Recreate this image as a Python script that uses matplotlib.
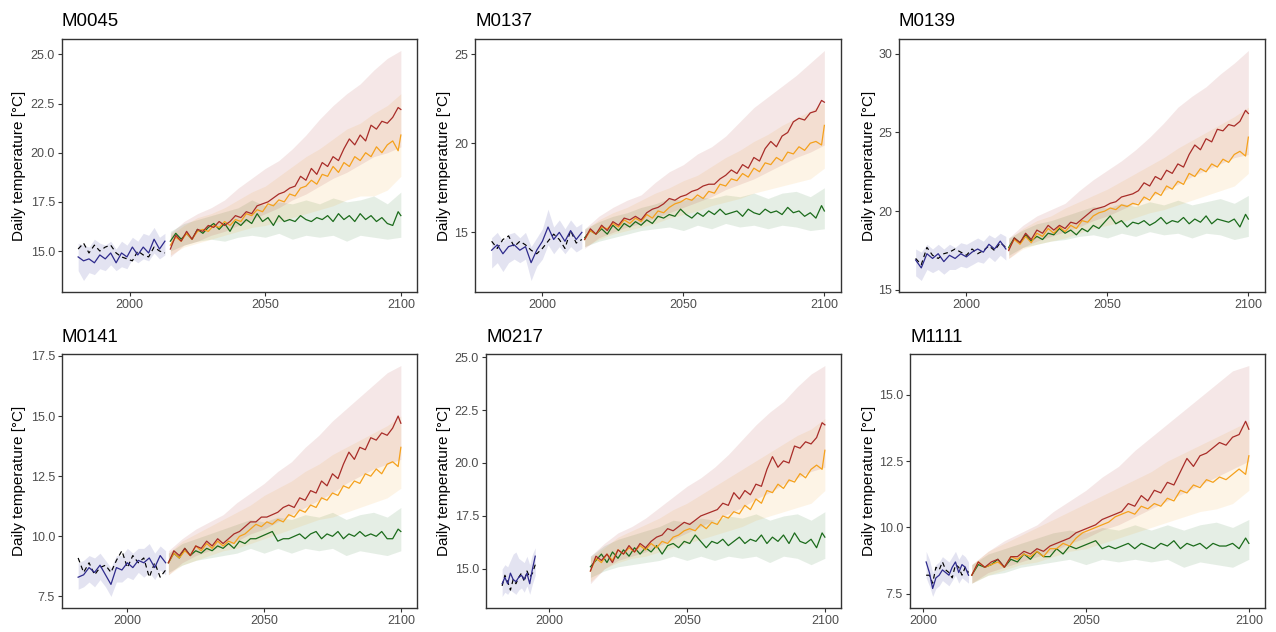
import numpy as np
import matplotlib
matplotlib.use('Agg')
from matplotlib import pyplot as plt
from matplotlib.ticker import MultipleLocator, FormatStrFormatter

plt.rcParams['font.family'] = ['Liberation Sans', 'DejaVu Sans']

ssp_years = np.append(np.arange(2015, 2100, 2), 2100)
band_years = np.arange(2015, 2101, 5)

# ---------------- M0045 ----------------
m0045_hist_years = np.arange(1981, 2014, 2)
m0045_hist = [14.7, 14.5, 14.6, 14.4, 14.8, 14.6, 14.9, 14.4, 14.9, 14.7, 15.2, 14.8, 15.2, 14.9, 15.6, 15.1, 15.5]
m0045_hist_lo = [14.0, 13.5, 13.9, 13.8, 14.1, 14.0, 14.3, 14.0, 14.2, 14.1, 14.6, 14.4, 14.6, 14.5, 14.9, 14.6, 14.8]
m0045_hist_hi = [15.4, 15.3, 15.2, 15.6, 15.4, 15.3, 15.5, 15.1, 15.5, 15.3, 15.7, 15.5, 15.9, 15.8, 16.2, 15.7, 15.9]
m0045_obs = [15.1, 15.4, 14.9, 15.3, 15.0, 15.2, 15.3, 14.9, 14.7, 14.6, 14.5, 15.0, 14.8, 14.7, 15.2, 15.0, 14.9]
m0045_ssp126 = [15.5, 15.9, 15.6, 15.9, 15.6, 16.1, 15.9, 16.2, 16.4, 16.1, 16.4,
                16.0, 16.5, 16.3, 16.6, 16.4, 16.9, 16.5, 16.7, 16.3, 16.8, 16.5,
                16.6, 16.5, 16.8, 16.6, 16.5, 16.7, 16.6, 16.8, 16.5, 16.9, 16.6,
                16.8, 16.5, 16.9, 16.6, 16.8, 16.5, 16.7, 16.4, 16.3, 17.0, 16.8]
m0045_ssp245 = [15.3, 15.7, 15.5, 15.9, 15.6, 16.0, 16.1, 16.0, 16.3, 16.2, 16.5,
                16.3, 16.6, 16.5, 16.9, 16.8, 17.1, 17.0, 17.4, 17.3, 17.6, 17.5,
                17.9, 17.8, 18.2, 18.3, 18.6, 18.4, 18.9, 18.8, 19.3, 19.0, 19.5,
                19.3, 19.8, 19.6, 20.0, 19.8, 20.3, 20.0, 20.4, 20.6, 20.1, 20.9]
m0045_ssp585 = [15.1, 15.8, 15.5, 16.0, 15.6, 16.1, 16.0, 16.3, 16.2, 16.5, 16.3,
                16.5, 16.8, 16.7, 17.0, 16.9, 17.3, 17.4, 17.5, 17.7, 17.9, 18.0,
                18.2, 18.3, 18.8, 18.6, 19.2, 18.9, 19.5, 19.3, 19.8, 19.6, 20.2,
                20.7, 20.4, 20.9, 20.6, 21.4, 21.2, 21.6, 21.5, 21.8, 22.3, 22.2]
m0045_ssp126_lo = [15.0, 15.3, 15.5, 15.6, 15.5, 15.7, 15.8, 15.7, 15.9, 15.6, 15.8, 15.7, 15.8, 15.5, 15.8, 15.7, 15.6, 15.7]
m0045_ssp126_hi = [16.0, 16.4, 16.6, 16.8, 17.0, 17.2, 17.6, 17.3, 17.5, 17.4, 17.6, 17.4, 17.7, 17.5, 17.6, 17.8, 17.4, 18.0]
m0045_ssp245_lo = [14.8, 15.2, 15.4, 15.6, 15.8, 16.0, 16.2, 16.3, 16.5, 16.7, 16.9, 17.1, 17.3, 17.6, 17.8, 17.8, 18.1, 18.8]
m0045_ssp245_hi = [15.8, 16.3, 16.7, 16.9, 17.2, 17.6, 18.0, 18.3, 18.8, 19.3, 19.8, 20.2, 20.7, 21.2, 21.5, 22.0, 22.4, 23.0]
m0045_ssp585_lo = [14.7, 15.3, 15.5, 15.8, 16.0, 16.3, 16.6, 16.9, 17.2, 17.6, 17.9, 18.3, 18.7, 19.0, 19.4, 19.8, 20.0, 20.3]
m0045_ssp585_hi = [15.9, 16.5, 16.9, 17.2, 17.6, 18.2, 18.7, 19.2, 19.6, 20.2, 20.9, 21.7, 22.4, 23.0, 23.5, 24.2, 24.8, 25.2]

# ---------------- M0137 ----------------
m0137_hist_years = np.arange(1982, 2015, 2)
m0137_hist = [14.0, 14.3, 13.8, 14.2, 14.3, 14.0, 14.2, 13.3, 14.0, 14.5, 15.3, 14.6, 15.0, 14.5, 15.1, 14.6, 15.0]
m0137_hist_lo = [13.0, 13.3, 12.8, 13.3, 13.5, 13.3, 13.5, 12.3, 13.1, 13.5, 14.3, 13.8, 14.2, 13.8, 14.2, 13.9, 14.1]
m0137_hist_hi = [14.7, 15.0, 14.5, 14.9, 15.0, 14.7, 15.0, 14.2, 14.7, 15.2, 16.3, 15.3, 15.7, 15.2, 15.7, 15.3, 15.5]
m0137_obs = [14.5, 14.1, 14.6, 14.8, 14.2, 14.5, 14.3, 14.0, 13.8, 14.1, 14.5, 14.9, 14.6, 14.1, 15.1, 14.4, 14.6]
m0137_ssp126 = [14.7, 15.1, 14.9, 15.2, 14.9, 15.4, 15.1, 15.5, 15.3, 15.6, 15.4,
                15.7, 15.5, 15.9, 15.8, 16.0, 15.9, 16.3, 16.0, 15.8, 16.1, 15.9,
                16.2, 16.0, 16.3, 16.0, 16.1, 16.2, 15.9, 16.3, 16.1, 16.0, 16.3,
                16.1, 16.2, 16.0, 16.4, 16.1, 16.2, 15.9, 16.1, 15.8, 16.5, 16.2]
m0137_ssp245 = [14.6, 15.1, 14.9, 15.3, 15.2, 15.5, 15.3, 15.7, 15.5, 15.8, 15.6,
                16.0, 15.8, 16.2, 16.1, 16.4, 16.6, 16.7, 16.9, 16.8, 17.1, 16.9,
                17.3, 17.2, 17.7, 17.6, 18.0, 17.9, 18.3, 18.1, 18.6, 18.4, 18.9,
                18.8, 19.2, 19.0, 19.5, 19.4, 19.8, 19.6, 20.0, 20.1, 19.9, 21.0]
m0137_ssp585 = [14.6, 15.2, 14.9, 15.4, 15.1, 15.6, 15.4, 15.8, 15.7, 15.9, 15.7,
                16.1, 16.3, 16.4, 16.6, 16.9, 16.8, 17.0, 17.1, 17.3, 17.4, 17.6,
                17.7, 17.7, 18.0, 18.2, 18.5, 18.3, 18.8, 18.6, 19.2, 19.0, 19.7,
                20.1, 19.8, 20.4, 20.6, 21.2, 21.4, 21.3, 21.7, 21.8, 22.4, 22.3]
m0137_ssp126_lo = [14.2, 14.5, 14.7, 14.9, 15.1, 15.2, 15.3, 15.1, 15.4, 15.2, 15.5, 15.3, 15.4, 15.2, 15.4, 15.3, 15.1, 15.2]
m0137_ssp126_hi = [15.2, 15.6, 15.9, 16.1, 16.4, 16.6, 16.9, 16.8, 17.0, 16.9, 17.1, 17.0, 17.2, 16.9, 17.2, 17.3, 17.0, 17.5]
m0137_ssp245_lo = [14.2, 14.6, 14.9, 15.1, 15.3, 15.5, 15.8, 16.0, 16.2, 16.5, 16.7, 16.9, 17.2, 17.4, 17.6, 17.8, 18.0, 18.6]
m0137_ssp245_hi = [15.1, 15.7, 16.1, 16.4, 16.8, 17.2, 17.5, 17.9, 18.2, 18.7, 19.2, 19.6, 20.1, 20.5, 21.0, 21.4, 21.8, 22.3]
m0137_ssp585_lo = [14.1, 14.7, 15.0, 15.3, 15.5, 15.8, 16.1, 16.4, 16.7, 17.0, 17.4, 17.7, 18.0, 18.4, 18.8, 19.2, 19.5, 19.9]
m0137_ssp585_hi = [15.2, 15.9, 16.4, 16.8, 17.1, 17.8, 18.4, 18.8, 19.4, 19.8, 20.4, 21.2, 22.0, 22.6, 23.2, 23.8, 24.5, 25.2]

# ---------------- M0139 ----------------
m0139_hist_years = np.arange(1982, 2015, 2)
m0139_hist = [16.9, 16.4, 17.3, 17.0, 17.3, 16.8, 17.2, 17.0, 17.3, 17.1, 17.4, 17.6, 17.4, 17.9, 17.6, 18.1, 17.6]
m0139_hist_lo = [15.9, 15.6, 16.3, 16.1, 16.3, 16.0, 16.3, 16.3, 16.5, 16.4, 16.6, 16.8, 16.7, 17.1, 16.8, 17.2, 16.9]
m0139_hist_hi = [17.6, 17.4, 17.9, 17.6, 17.9, 17.6, 17.9, 17.7, 18.0, 17.9, 18.1, 18.3, 18.1, 18.5, 18.3, 18.6, 18.4]
m0139_obs = [17.0, 16.6, 17.7, 17.2, 17.0, 17.3, 17.4, 17.6, 17.4, 17.2, 17.6, 17.3, 17.5, 17.8, 17.5, 18.0, 17.7]
m0139_ssp126 = [17.7, 18.3, 18.0, 18.5, 18.1, 18.4, 18.2, 18.6, 18.5, 18.9, 18.6,
                18.8, 18.5, 18.9, 18.7, 19.1, 18.9, 19.3, 19.7, 19.2, 19.4, 19.0,
                19.3, 19.2, 19.4, 19.1, 19.3, 19.6, 19.2, 19.4, 19.3, 19.6, 19.2,
                19.5, 19.3, 19.7, 19.2, 19.5, 19.4, 19.3, 19.5, 19.0, 19.8, 19.5]
m0139_ssp245 = [17.6, 18.2, 17.9, 18.4, 18.0, 18.6, 18.4, 18.9, 18.6, 19.0, 18.7,
                19.1, 18.9, 19.4, 19.3, 19.7, 19.9, 20.0, 20.2, 20.1, 20.4, 20.3,
                20.5, 20.4, 20.9, 20.7, 21.2, 21.0, 21.6, 21.4, 21.9, 21.7, 22.4,
                22.2, 22.7, 22.5, 23.0, 22.8, 23.3, 23.1, 23.6, 23.8, 23.5, 24.7]
m0139_ssp585 = [17.5, 18.3, 18.0, 18.6, 18.2, 18.8, 18.6, 19.1, 18.8, 19.1, 18.9,
                19.3, 19.2, 19.5, 19.8, 20.1, 20.2, 20.3, 20.5, 20.6, 20.9, 21.0,
                21.1, 21.3, 21.8, 21.6, 22.2, 22.0, 22.6, 22.4, 23.0, 22.8, 23.6,
                24.2, 23.9, 24.6, 24.4, 25.2, 25.1, 25.5, 25.4, 25.7, 26.4, 26.2]
m0139_ssp126_lo = [17.2, 17.7, 17.9, 18.1, 18.2, 18.4, 18.5, 18.3, 18.6, 18.4, 18.7, 18.5, 18.6, 18.3, 18.6, 18.5, 18.2, 18.4]
m0139_ssp126_hi = [18.3, 18.8, 19.2, 19.4, 19.7, 20.0, 20.3, 20.2, 20.5, 20.3, 20.6, 20.4, 20.7, 20.4, 20.6, 20.8, 20.5, 21.0]
m0139_ssp245_lo = [17.0, 17.6, 17.9, 18.1, 18.3, 18.6, 18.9, 19.1, 19.3, 19.6, 19.9, 20.1, 20.4, 20.7, 21.0, 21.3, 21.6, 22.4]
m0139_ssp245_hi = [18.2, 18.9, 19.4, 19.7, 20.2, 20.6, 21.0, 21.4, 21.9, 22.4, 22.9, 23.4, 24.0, 24.5, 25.0, 25.5, 26.0, 26.6]
m0139_ssp585_lo = [17.0, 17.7, 18.1, 18.4, 18.7, 19.0, 19.4, 19.7, 20.1, 20.5, 20.9, 21.3, 21.7, 22.2, 22.6, 23.0, 23.4, 23.6]
m0139_ssp585_hi = [18.3, 19.1, 19.7, 20.1, 20.5, 21.3, 22.0, 22.6, 23.2, 23.9, 24.7, 25.6, 26.6, 27.3, 27.9, 28.7, 29.4, 30.2]

# ---------------- M0141 ----------------
m0141_hist_years = np.arange(1982, 2015, 2)
m0141_hist = [8.3, 8.4, 8.7, 8.5, 8.8, 8.4, 8.0, 8.7, 8.6, 8.9, 8.7, 9.0, 8.9, 9.1, 8.7, 9.2, 8.9]
m0141_hist_lo = [7.8, 7.9, 8.1, 7.9, 8.2, 7.9, 7.5, 8.1, 8.1, 8.3, 8.2, 8.5, 8.3, 8.5, 8.2, 8.6, 8.4]
m0141_hist_hi = [8.9, 9.0, 9.2, 9.1, 9.3, 9.0, 8.7, 9.2, 9.2, 9.5, 9.3, 9.5, 9.5, 9.7, 9.3, 9.6, 9.4]
m0141_obs = [9.1, 8.5, 8.9, 8.4, 8.7, 8.8, 8.5, 9.0, 9.4, 8.7, 9.2, 8.9, 9.1, 8.3, 8.9, 8.3, 8.6]
m0141_ssp126 = [8.9, 9.3, 9.1, 9.5, 9.2, 9.4, 9.3, 9.5, 9.4, 9.6, 9.5,
                9.7, 9.5, 9.8, 9.7, 9.9, 9.9, 10.0, 10.1, 10.2, 9.8, 9.9,
                9.9, 10.0, 10.1, 9.9, 10.1, 10.2, 9.9, 10.1, 10.0, 10.2, 9.9,
                10.1, 10.0, 10.2, 10.0, 10.1, 10.0, 10.2, 9.9, 9.9, 10.3, 10.2]
m0141_ssp245 = [8.9, 9.3, 9.1, 9.4, 9.2, 9.6, 9.4, 9.7, 9.5, 9.8, 9.6,
                9.8, 9.7, 10.0, 10.1, 10.3, 10.5, 10.4, 10.6, 10.5, 10.7, 10.6,
                10.9, 10.8, 11.1, 11.0, 11.3, 11.2, 11.6, 11.5, 11.8, 11.7, 12.1,
                12.0, 12.3, 12.2, 12.6, 12.5, 12.8, 12.6, 13.0, 13.1, 12.9, 13.7]
m0141_ssp585 = [8.9, 9.4, 9.2, 9.5, 9.2, 9.6, 9.5, 9.8, 9.6, 9.9, 9.7,
                9.9, 10.1, 10.2, 10.4, 10.6, 10.6, 10.8, 10.8, 10.9, 11.0, 11.2,
                11.3, 11.2, 11.6, 11.5, 11.9, 11.8, 12.3, 12.1, 12.6, 12.4, 13.0,
                13.5, 13.2, 13.7, 13.6, 14.1, 14.0, 14.3, 14.2, 14.5, 15.0, 14.7]
m0141_ssp126_lo = [8.5, 8.8, 9.0, 9.1, 9.2, 9.3, 9.5, 9.3, 9.5, 9.3, 9.5, 9.4, 9.5, 9.2, 9.4, 9.3, 9.2, 9.4]
m0141_ssp126_hi = [9.3, 9.7, 9.9, 10.1, 10.3, 10.5, 10.7, 10.6, 10.8, 10.7, 10.9, 10.8, 11.0, 10.7, 10.9, 11.0, 10.8, 11.2]
m0141_ssp245_lo = [8.4, 8.8, 9.0, 9.2, 9.4, 9.5, 9.7, 9.9, 10.1, 10.3, 10.5, 10.7, 10.8, 11.0, 11.2, 11.4, 11.6, 12.0]
m0141_ssp245_hi = [9.3, 9.8, 10.1, 10.4, 10.7, 11.0, 11.3, 11.7, 12.0, 12.3, 12.7, 13.0, 13.4, 13.7, 14.0, 14.3, 14.6, 15.0]
m0141_ssp585_lo = [8.4, 8.9, 9.2, 9.4, 9.6, 9.8, 10.1, 10.3, 10.6, 10.9, 11.2, 11.5, 11.8, 12.2, 12.5, 12.8, 13.0, 13.2]
m0141_ssp585_hi = [9.4, 9.9, 10.3, 10.6, 10.9, 11.4, 11.8, 12.2, 12.7, 13.1, 13.7, 14.2, 14.8, 15.3, 15.8, 16.3, 16.8, 17.1]

# ---------------- M0217 ----------------
m0217_hist_years = np.arange(1983, 1996)
m0217_hist = [14.3, 14.6, 14.3, 14.8, 14.5, 14.4, 14.6, 14.7, 14.5, 14.8, 14.3, 15.0, 15.6]
m0217_hist_lo = [13.7, 13.9, 13.8, 14.0, 13.9, 13.8, 14.0, 14.1, 13.9, 14.2, 13.8, 14.3, 14.7]
m0217_hist_hi = [15.0, 15.2, 15.1, 15.4, 15.7, 15.8, 15.5, 15.4, 15.3, 15.6, 15.2, 15.7, 16.0]
m0217_obs = [14.2, 14.7, 14.4, 14.0, 14.5, 14.3, 14.6, 14.8, 14.4, 14.9, 14.6, 14.8, 15.2]
m0217_ssp126 = [15.1, 15.4, 15.7, 15.3, 15.8, 15.5, 15.9, 15.6, 16.0, 15.7, 16.0,
                15.8, 16.1, 15.7, 16.1, 16.2, 16.0, 16.3, 16.2, 16.6, 16.3, 16.0,
                16.3, 16.2, 16.4, 16.1, 16.3, 16.5, 16.2, 16.4, 16.3, 16.6, 16.2,
                16.5, 16.3, 16.6, 16.2, 16.7, 16.3, 16.2, 16.4, 16.0, 16.7, 16.5]
m0217_ssp245 = [14.9, 15.5, 15.3, 15.7, 15.4, 15.9, 15.7, 16.0, 15.8, 16.1, 15.9,
                16.2, 16.0, 16.3, 16.2, 16.5, 16.6, 16.8, 16.9, 16.8, 17.1, 16.9,
                17.2, 17.1, 17.5, 17.4, 17.7, 17.6, 18.0, 17.8, 18.3, 18.1, 18.7,
                18.6, 19.0, 18.8, 19.2, 19.1, 19.5, 19.3, 19.7, 19.9, 19.7, 20.6]
m0217_ssp585 = [14.9, 15.6, 15.4, 15.7, 15.3, 15.9, 15.7, 16.1, 15.8, 16.2, 16.0,
                16.3, 16.5, 16.6, 16.9, 16.8, 17.0, 17.2, 17.1, 17.3, 17.5, 17.6,
                17.7, 17.8, 18.1, 18.0, 18.6, 18.3, 18.7, 18.5, 19.0, 18.9, 19.7,
                20.3, 19.8, 20.1, 20.0, 20.8, 20.7, 21.0, 20.9, 21.2, 21.9, 21.8]
m0217_ssp126_lo = [14.6, 14.9, 15.1, 15.2, 15.3, 15.4, 15.6, 15.4, 15.6, 15.4, 15.6, 15.5, 15.6, 15.3, 15.6, 15.5, 15.2, 15.5]
m0217_ssp126_hi = [15.6, 16.1, 16.4, 16.6, 16.8, 17.0, 17.3, 17.2, 17.4, 17.3, 17.5, 17.4, 17.6, 17.3, 17.5, 17.6, 17.3, 17.7]
m0217_ssp245_lo = [14.4, 15.0, 15.3, 15.5, 15.6, 15.8, 16.0, 16.2, 16.4, 16.6, 16.8, 17.0, 17.3, 17.5, 17.7, 17.9, 18.1, 18.7]
m0217_ssp245_hi = [15.5, 16.0, 16.5, 16.8, 17.1, 17.4, 17.8, 18.1, 18.5, 18.9, 19.3, 19.7, 20.1, 20.5, 20.9, 21.3, 21.6, 22.1]
m0217_ssp585_lo = [14.3, 15.0, 15.4, 15.6, 15.8, 16.1, 16.4, 16.7, 17.0, 17.3, 17.6, 17.9, 18.3, 18.6, 19.0, 19.3, 19.6, 19.8]
m0217_ssp585_hi = [15.6, 16.2, 16.7, 17.0, 17.4, 17.9, 18.4, 18.9, 19.3, 19.8, 20.4, 21.1, 21.8, 22.4, 22.9, 23.6, 24.2, 24.6]

# ---------------- M1111 ----------------
m1111_hist_years = np.arange(2001, 2015)
m1111_hist = [8.7, 8.3, 7.7, 8.1, 8.2, 8.4, 8.3, 8.2, 8.5, 8.7, 8.3, 8.6, 8.5, 8.2]
m1111_hist_lo = [8.1, 7.8, 7.4, 7.7, 7.8, 8.0, 7.9, 7.8, 8.0, 8.2, 7.9, 8.1, 8.0, 7.9]
m1111_hist_hi = [9.1, 8.8, 8.3, 8.6, 8.7, 8.9, 8.8, 8.7, 8.9, 9.1, 8.8, 9.0, 8.9, 8.7]
m1111_obs = [8.2, 8.2, 7.9, 8.5, 8.4, 8.7, 8.4, 8.3, 8.1, 8.6, 8.5, 8.2, 8.5, 8.3]
m1111_ssp126 = [8.2, 8.6, 8.5, 8.6, 8.8, 8.5, 8.8, 8.7, 9.0, 8.8, 9.1,
                8.9, 8.9, 9.2, 9.0, 9.3, 9.2, 9.3, 9.4, 9.5, 9.2, 9.3,
                9.2, 9.3, 9.4, 9.2, 9.4, 9.3, 9.2, 9.4, 9.3, 9.5, 9.2,
                9.4, 9.3, 9.4, 9.2, 9.4, 9.3, 9.3, 9.4, 9.2, 9.6, 9.4]
m1111_ssp245 = [8.2, 8.7, 8.5, 8.6, 8.7, 8.5, 8.9, 8.8, 9.0, 8.9, 9.1,
                8.9, 9.2, 9.2, 9.4, 9.3, 9.6, 9.8, 9.9, 10.0, 10.1, 10.2,
                10.4, 10.5, 10.6, 10.5, 10.8, 10.7, 10.9, 10.8, 11.1, 11.0, 11.4,
                11.3, 11.6, 11.5, 11.8, 11.7, 11.9, 11.8, 12.0, 12.2, 12.0, 12.7]
m1111_ssp585 = [8.2, 8.7, 8.5, 8.7, 8.8, 8.5, 8.9, 8.9, 9.1, 9.0, 9.2,
                9.1, 9.3, 9.4, 9.5, 9.6, 9.8, 9.9, 10.0, 10.1, 10.3, 10.4,
                10.5, 10.6, 10.9, 10.8, 11.2, 11.0, 11.4, 11.3, 11.7, 11.6, 12.1,
                12.6, 12.3, 12.7, 12.8, 13.0, 13.2, 13.1, 13.4, 13.5, 14.0, 13.7]
m1111_ssp126_lo = [7.9, 8.2, 8.3, 8.5, 8.6, 8.7, 8.8, 8.6, 8.8, 8.7, 8.8, 8.7, 8.8, 8.5, 8.7, 8.6, 8.5, 8.8]
m1111_ssp126_hi = [8.6, 9.0, 9.2, 9.4, 9.6, 9.8, 9.9, 9.8, 10.0, 9.9, 10.1, 9.9, 10.1, 9.9, 10.1, 10.2, 10.0, 10.3]
m1111_ssp245_lo = [7.9, 8.2, 8.4, 8.6, 8.7, 8.9, 9.1, 9.2, 9.4, 9.6, 9.8, 10.0, 10.2, 10.4, 10.6, 10.7, 10.9, 11.4]
m1111_ssp245_hi = [8.6, 9.1, 9.4, 9.7, 10.0, 10.3, 10.6, 10.9, 11.2, 11.5, 11.8, 12.1, 12.5, 12.8, 13.1, 13.4, 13.7, 14.0]
m1111_ssp585_lo = [7.9, 8.3, 8.5, 8.7, 8.9, 9.1, 9.4, 9.6, 9.9, 10.1, 10.4, 10.7, 11.0, 11.3, 11.6, 11.9, 12.2, 12.5]
m1111_ssp585_hi = [8.6, 9.1, 9.5, 9.8, 10.1, 10.6, 11.0, 11.4, 11.9, 12.3, 12.9, 13.4, 13.9, 14.4, 14.9, 15.4, 15.9, 16.1]

# Tabelle der Stationen: Name, Historie, Szenarien (126, 245, 585), y-Tickabstand
panels = [
    ('M0045', m0045_hist_years, m0045_hist, m0045_hist_lo, m0045_hist_hi, m0045_obs,
     [m0045_ssp126, m0045_ssp245, m0045_ssp585],
     [(m0045_ssp126_lo, m0045_ssp126_hi), (m0045_ssp245_lo, m0045_ssp245_hi), (m0045_ssp585_lo, m0045_ssp585_hi)], 2.5),
    ('M0137', m0137_hist_years, m0137_hist, m0137_hist_lo, m0137_hist_hi, m0137_obs,
     [m0137_ssp126, m0137_ssp245, m0137_ssp585],
     [(m0137_ssp126_lo, m0137_ssp126_hi), (m0137_ssp245_lo, m0137_ssp245_hi), (m0137_ssp585_lo, m0137_ssp585_hi)], 5),
    ('M0139', m0139_hist_years, m0139_hist, m0139_hist_lo, m0139_hist_hi, m0139_obs,
     [m0139_ssp126, m0139_ssp245, m0139_ssp585],
     [(m0139_ssp126_lo, m0139_ssp126_hi), (m0139_ssp245_lo, m0139_ssp245_hi), (m0139_ssp585_lo, m0139_ssp585_hi)], 5),
    ('M0141', m0141_hist_years, m0141_hist, m0141_hist_lo, m0141_hist_hi, m0141_obs,
     [m0141_ssp126, m0141_ssp245, m0141_ssp585],
     [(m0141_ssp126_lo, m0141_ssp126_hi), (m0141_ssp245_lo, m0141_ssp245_hi), (m0141_ssp585_lo, m0141_ssp585_hi)], 2.5),
    ('M0217', m0217_hist_years, m0217_hist, m0217_hist_lo, m0217_hist_hi, m0217_obs,
     [m0217_ssp126, m0217_ssp245, m0217_ssp585],
     [(m0217_ssp126_lo, m0217_ssp126_hi), (m0217_ssp245_lo, m0217_ssp245_hi), (m0217_ssp585_lo, m0217_ssp585_hi)], 2.5),
    ('M1111', m1111_hist_years, m1111_hist, m1111_hist_lo, m1111_hist_hi, m1111_obs,
     [m1111_ssp126, m1111_ssp245, m1111_ssp585],
     [(m1111_ssp126_lo, m1111_ssp126_hi), (m1111_ssp245_lo, m1111_ssp245_hi), (m1111_ssp585_lo, m1111_ssp585_hi)], 2.5),
]

ssp_colors = ['#1b6b1b', '#f5a11c', '#a82c28']
hist_color = '#2e2a8c'

# Achsenpositionen in Pixeln: links, oben, rechts, unten, Zellrand links
W, H = 1276, 632
boxes = [(62, 39, 417, 292, 0), (475, 39, 841, 292, 425), (899, 39, 1265, 292, 850),
         (62, 354, 417, 608, 0), (486, 354, 841, 608, 425), (910, 354, 1265, 608, 850)]

fig = plt.figure(figsize=(W / 100, H / 100), dpi=100)

for p, box in zip(panels, boxes):
    name, hy, hm, hlo, hhi, obs, lines, bands, step = p
    l, t, r, b, cell = box
    ax = fig.add_axes([l / W, 1 - b / H, (r - l) / W, (b - t) / H])

    # Baender
    ax.fill_between(hy, hlo, hhi, color='#5555aa', alpha=0.16, linewidth=0)
    for (lo, hi), c in zip(bands, ssp_colors):
        ax.fill_between(band_years, lo, hi, color=c, alpha=0.11, linewidth=0)

    # Linien
    ax.plot(hy, obs, color='black', linewidth=0.85, linestyle=(0, (4, 3)))
    ax.plot(hy, hm, color=hist_color, linewidth=0.9)
    for y, c in zip(lines, ssp_colors):
        ax.plot(ssp_years, y, color=c, linewidth=0.9)

    ax.xaxis.set_major_locator(MultipleLocator(50))
    ax.yaxis.set_major_locator(MultipleLocator(step))
    ax.yaxis.set_major_formatter(FormatStrFormatter('%.1f' if step == 2.5 else '%d'))

    for s in ax.spines.values():
        s.set_color('#333333')
        s.set_linewidth(1.0)
    ax.tick_params(direction='out', length=3, width=0.8, color='#333333',
                   labelcolor='#4d4d4d', labelsize=9, pad=2)

    ax.set_title(name, loc='left', fontsize=13.4, pad=9)
    ax.set_ylabel('Daily temperature [°C]', fontsize=11)
    ax.yaxis.set_label_coords((cell + 26 - l) / (r - l), 0.5)

fig.savefig('out.png', dpi=100)
